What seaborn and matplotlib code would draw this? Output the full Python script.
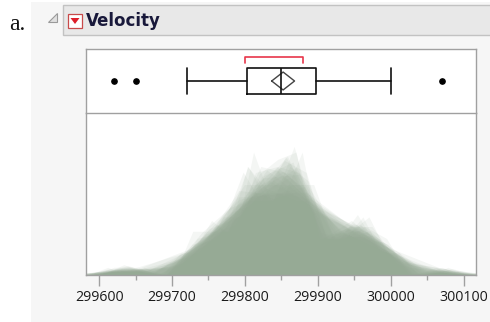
import numpy as np
import matplotlib
matplotlib.use("Agg")
import matplotlib.pyplot as plt
import seaborn as sns
from matplotlib.patches import Rectangle, Polygon
from matplotlib.ticker import MultipleLocator

# ---------------- data ----------------
velocity = [
    299850, 299740, 299900, 300070, 299930, 299850, 299950, 299980, 299980, 299880,
    300000, 299980, 299930, 299650, 299760, 299810, 300000, 300000, 299960, 299960,
    299960, 299940, 299960, 299940, 299880, 299800, 299850, 299880, 299900, 299840,
    299830, 299790, 299810, 299880, 299880, 299830, 299800, 299790, 299760, 299800,
    299880, 299880, 299880, 299860, 299720, 299720, 299620, 299860, 299970, 299950,
    299880, 299910, 299850, 299870, 299840, 299840, 299850, 299840, 299840, 299840,
    299890, 299810, 299810, 299820, 299800, 299770, 299760, 299740, 299750, 299760,
    299910, 299920, 299890, 299860, 299880, 299720, 299840, 299850, 299850, 299780,
    299890, 299840, 299780, 299810, 299760, 299810, 299790, 299810, 299820, 299850,
    299870, 299870, 299810, 299740, 299810, 299940, 299950, 299800, 299810, 299870,
]
tick_values = [299600, 299700, 299800, 299900, 300000, 300100]
tick_labels = ["299600", "299700", "299800", "299900", "300000", "300100"]
title = "Velocity"
panel_label = "a."

# ---------------- style ----------------
sns.set_style("white")
plt.rcParams["font.family"] = ["Open Sans", "DejaVu Sans"]

W, H = 490, 322
fig = plt.figure(figsize=(W / 100, H / 100), dpi=100)
fig.patch.set_facecolor("white")

def fx(px):
    return px / W

def fy(py):
    return 1 - py / H

# light gray report background
fig.add_artist(Rectangle((fx(31), 0), 1 - fx(31), fy(2), transform=fig.transFigure,
                         facecolor="#f6f6f6", edgecolor="none", zorder=-5))
# header bar
fig.add_artist(Rectangle((fx(63), fy(35)), 1.01 - fx(63), fy(5) - fy(35), transform=fig.transFigure,
                         facecolor="#e8e8e8", edgecolor="#c2c2c2", linewidth=1.0, zorder=-4))
# disclosure triangle icon
fig.add_artist(Polygon([(fx(57), fy(13)), (fx(57), fy(22)), (fx(48), fy(22))], closed=True,
                       transform=fig.transFigure, facecolor="#e0e0e0", edgecolor="#9a9a9a",
                       linewidth=0.8))
# red popup icon
fig.add_artist(Rectangle((fx(68), fy(28)), fx(14), 14 / H, transform=fig.transFigure,
                         facecolor="white", edgecolor="#c84a4a", linewidth=0.9))
fig.add_artist(Polygon([(fx(70.5), fy(18)), (fx(79.5), fy(18)), (fx(75), fy(24))], closed=True,
                       transform=fig.transFigure, facecolor="#dd1f2a", edgecolor="none"))
fig.text(fx(86), fy(21.5), title, fontsize=12, fontweight="bold", color="#18183a",
         va="center", ha="left", family="DejaVu Sans")
fig.text(fx(9), fy(29.5), panel_label, fontsize=17, color="#111111",
         va="baseline", ha="left", family="Liberation Serif")

xlim = (299582, 300117)
frame_col = "#a0a0a0"

# ---------------- shadowgram panel ----------------
ax_den = fig.add_axes([fx(86), fy(275), fx(390), 162 / H])
ax_den.set_facecolor("white")
fill_col = "#96aa95"
for width in [25, 30, 35, 40, 45, 50, 60, 70, 80, 90]:
    for frac in [0.0, 1 / 3, 2 / 3]:
        start = 299500 + frac * width
        sns.histplot(x=velocity, ax=ax_den, stat="density", binwidth=width,
                     binrange=(start, start + width * int(np.ceil(700 / width))),
                     element="poly", fill=True, alpha=0.1, linewidth=0, color=fill_col)
ax_den.set_xlim(*xlim)
ax_den.set_ylim(0, 0.0090)
ax_den.set_ylabel("")
ax_den.set_xlabel("")
ax_den.set_yticks([])
ax_den.set_xticks(tick_values, tick_labels)
ax_den.xaxis.set_minor_locator(MultipleLocator(50))
ax_den.tick_params(axis="x", which="major", length=8, width=1, color="#a0a0a0",
                   pad=3, labelsize=10.2, labelcolor="#1a1a1a", direction="out", bottom=True)
ax_den.tick_params(axis="x", which="minor", length=3.5, width=1, color="#a0a0a0",
                   direction="out", bottom=True)
ax_den.spines["top"].set_visible(False)
for side in ["left", "right", "bottom"]:
    ax_den.spines[side].set_color(frame_col)
    ax_den.spines[side].set_linewidth(1.0)

# ---------------- box plot panel ----------------
ax_box = fig.add_axes([fx(86), fy(113), fx(390), 64 / H])
ax_box.set_zorder(3)
ax_box.set_facecolor("white")
v = np.sort(np.asarray(velocity, dtype=float))
n = len(v)
q1, med, q3 = np.percentile(v, [25, 50, 75], method="weibull")
iqr = q3 - q1
inside = v[(v >= q1 - 1.5 * iqr) & (v <= q3 + 1.5 * iqr)]
stats = dict(med=med, q1=q1, q3=q3, whislo=inside.min(), whishi=inside.max(),
             fliers=v[(v < inside.min()) | (v > inside.max())], label="")
bw = 0.406
ax_box.bxp([stats], positions=[0], widths=bw, capwidths=[bw], orientation="horizontal",
           manage_ticks=False,
           boxprops=dict(color="#111111", linewidth=1.2),
           whiskerprops=dict(color="#111111", linewidth=1.2),
           capprops=dict(color="#111111", linewidth=1.2),
           medianprops=dict(color="#111111", linewidth=1.2),
           flierprops=dict(marker="o", markerfacecolor="black", markeredgecolor="black",
                           markersize=3.8, linestyle="none"))
# mean confidence diamond
mean = v.mean()
se = v.std(ddof=1) / np.sqrt(n)
half = 1.984 * se
dh = 0.14
ax_box.plot([mean - half, mean, mean + half, mean, mean - half], [0, dh, 0, -dh, 0],
            color="#444444", linewidth=1.0)
# shortest half bracket
k = n // 2
spans = v[k - 1:] - v[:n - k + 1]
i0 = int(np.argmin(spans))
lo, hi = v[i0], v[i0 + k - 1]
ax_box.plot([lo, lo, hi, hi], [0.28, 0.375, 0.375, 0.28], color="#e8364a", linewidth=1.2)
ax_box.set_xlim(*xlim)
ax_box.set_ylim(-0.5, 0.5)
ax_box.set_xticks([])
ax_box.set_yticks([])
for s in ax_box.spines.values():
    s.set_color(frame_col)
    s.set_linewidth(1.0)

fig.savefig("out.png", dpi=100)
